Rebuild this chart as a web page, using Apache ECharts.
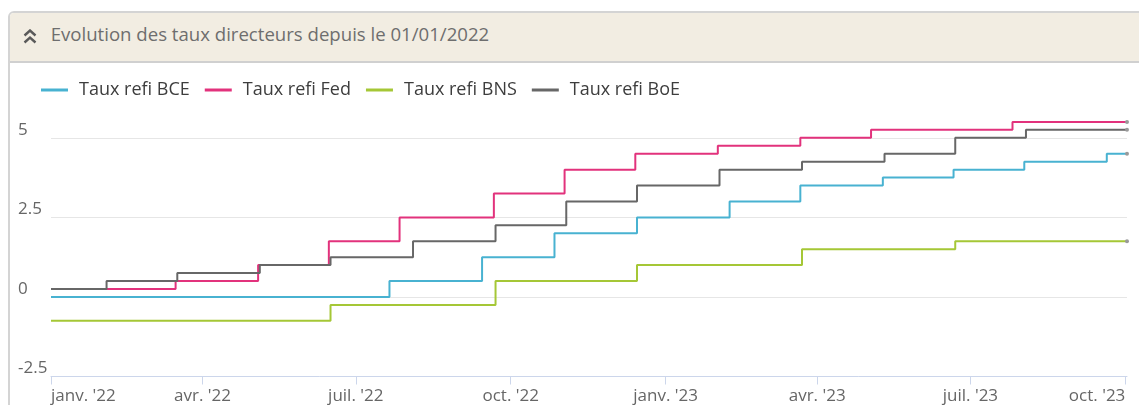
<!DOCTYPE html>
<html><head><meta charset="utf-8">
<script src="https://cdn.jsdelivr.net/npm/echarts@6/dist/echarts.min.js"></script>
<style>
html,body{margin:0;padding:0;width:1139px;height:405px;overflow:hidden;background:#fff;font-family:'Open Sans',sans-serif}
#panel{position:absolute;left:8px;top:11px;width:1200px;height:500px;border:2px solid #d4d4d4;border-radius:6px 0 0 0;box-sizing:border-box;background:#fff}
#header{position:absolute;left:0;top:0;right:0;height:48px;background:#f2ede2;border-bottom:2px solid #d0d0d0;border-radius:4px 0 0 0}
#title{position:absolute;left:40.7px;top:8.5px;font-size:18.6px;line-height:24px;color:#6e6e6e;white-space:nowrap}
#chev{position:absolute;left:13px;top:16px}
#chart{position:absolute;left:0;top:0;width:1139px;height:405px;z-index:2}
</style></head>
<body>
<div id="panel"><div id="header">
<svg id="chev" width="14" height="15" viewBox="0 0 14 15"><polyline points="1.5,6.5 7,1.5 12.5,6.5" fill="none" stroke="#5a5a5a" stroke-width="2.4"/><polyline points="1.5,13.5 7,8.5 12.5,13.5" fill="none" stroke="#5a5a5a" stroke-width="2.4"/></svg>
<div id="title">Evolution des taux directeurs depuis le 01/01/2022</div>
</div></div>
<div id="chart"></div>
<script>
const seriesNames = ['Taux refi BCE', 'Taux refi Fed', 'Taux refi BNS', 'Taux refi BoE'];
const startDate = '2022-01-01';
const endDate = '2023-10-02';
const bceDates = ['2022-01-01','2022-07-21','2022-09-14','2022-10-27','2022-12-15','2023-02-08','2023-03-22','2023-05-10','2023-06-21','2023-08-02','2023-09-20','2023-10-02'];
const bceValues = [0, 0.5, 1.25, 2, 2.5, 3, 3.5, 3.75, 4, 4.25, 4.5, 4.5];
const fedDates = ['2022-01-01','2022-03-16','2022-05-04','2022-06-15','2022-07-27','2022-09-21','2022-11-02','2022-12-14','2023-02-01','2023-03-22','2023-05-03','2023-07-26','2023-10-02'];
const fedValues = [0.25, 0.5, 1, 1.75, 2.5, 3.25, 4, 4.5, 4.75, 5, 5.25, 5.5, 5.5];
const bnsDates = ['2022-01-01','2022-06-16','2022-09-22','2022-12-15','2023-03-23','2023-06-22','2023-10-02'];
const bnsValues = [-0.75, -0.25, 0.5, 1, 1.5, 1.75, 1.75];
const boeDates = ['2022-01-01','2022-02-03','2022-03-17','2022-05-05','2022-06-16','2022-08-04','2022-09-22','2022-11-03','2022-12-15','2023-02-02','2023-03-23','2023-05-11','2023-06-22','2023-08-03','2023-10-02'];
const boeValues = [0.25, 0.5, 0.75, 1, 1.25, 1.75, 2.25, 3, 3.5, 4, 4.25, 4.5, 5, 5.25, 5.25];
const tickDates = ['2022-01-01','2022-04-01','2022-07-01','2022-10-01','2023-01-01','2023-04-01','2023-07-01','2023-10-01'];
const tickLabels = ["janv. '22","avr. '22","juil. '22","oct. '22","janv. '23","avr. '23","juil. '23","oct. '23"];
const yTicks = [-2.5, 0, 2.5, 5];
const colors = ['#48b2d1', '#e2327c', '#a5c736', '#676767'];

const ts = s => { const p = s.split('-').map(Number); return Date.UTC(p[0], p[1]-1, p[2]); };
const tickTs = tickDates.map(ts);
function build(dates, values) {
  return dates.map((d, i) => {
    const item = { value: [ts(d), values[i]] };
    if (i === dates.length - 1) { item.symbol = 'circle'; item.symbolSize = 4; item.itemStyle = { color: '#9a9a9a' }; }
    return item;
  });
}
const allDates = [bceDates, fedDates, bnsDates, boeDates];
const allValues = [bceValues, fedValues, bnsValues, boeValues];

const chart = echarts.init(document.getElementById('chart'), null, { renderer: 'canvas' });
chart.setOption({
  animation: false,
  backgroundColor: 'transparent',
  textStyle: { fontFamily: 'Open Sans' },
  legend: {
    left: 41, top: 81, padding: 0, itemWidth: 27, itemHeight: 3, itemGap: 15, icon: 'rect',
    textStyle: { fontFamily: 'Open Sans', fontSize: 18, color: '#3d3d3d', padding: [0, 0, 0, 6] },
    data: seriesNames
  },
  grid: { left: 51, right: 12, top: 106, bottom: 28.5, containLabel: false },
  xAxis: {
    type: 'value', min: ts(startDate), max: ts(endDate),
    axisLine: { onZero: false, lineStyle: { color: '#ccd6eb', width: 1 } },
    axisTick: { show: true, length: 8, lineStyle: { color: '#ccd6eb' }, customValues: tickTs },
    axisLabel: {
      customValues: tickTs, margin: 11, fontFamily: 'Open Sans', fontSize: 17, color: '#666666',
      alignMinLabel: 'left', alignMaxLabel: 'right',
      formatter: v => { const i = tickTs.indexOf(v); return i >= 0 ? tickLabels[i] : ''; }
    },
    splitLine: { show: false }
  },
  yAxis: {
    type: 'value', min: -2.5, max: 6, interval: 2.5,
    axisLine: { show: false }, axisTick: { show: false },
    axisLabel: {
      customValues: yTicks, align: 'left', verticalAlign: 'bottom', lineHeight: 16, margin: 33,
      fontFamily: 'Open Sans', fontSize: 17, color: '#666666',
      formatter: v => String(v)
    },
    splitLine: { show: true, showMaxLine: false, showMinLine: false, lineStyle: { color: '#e6e6e6', width: 1 } }
  },
  series: seriesNames.map((n, k) => ({
    name: n, type: 'line', step: 'end', symbol: 'none', showSymbol: true,
    data: build(allDates[k], allValues[k]),
    color: colors[k],
    lineStyle: { width: 2, color: colors[k] },
    itemStyle: { color: colors[k] },
    emphasis: { disabled: true }
  }))
});
</script>
</body></html>
